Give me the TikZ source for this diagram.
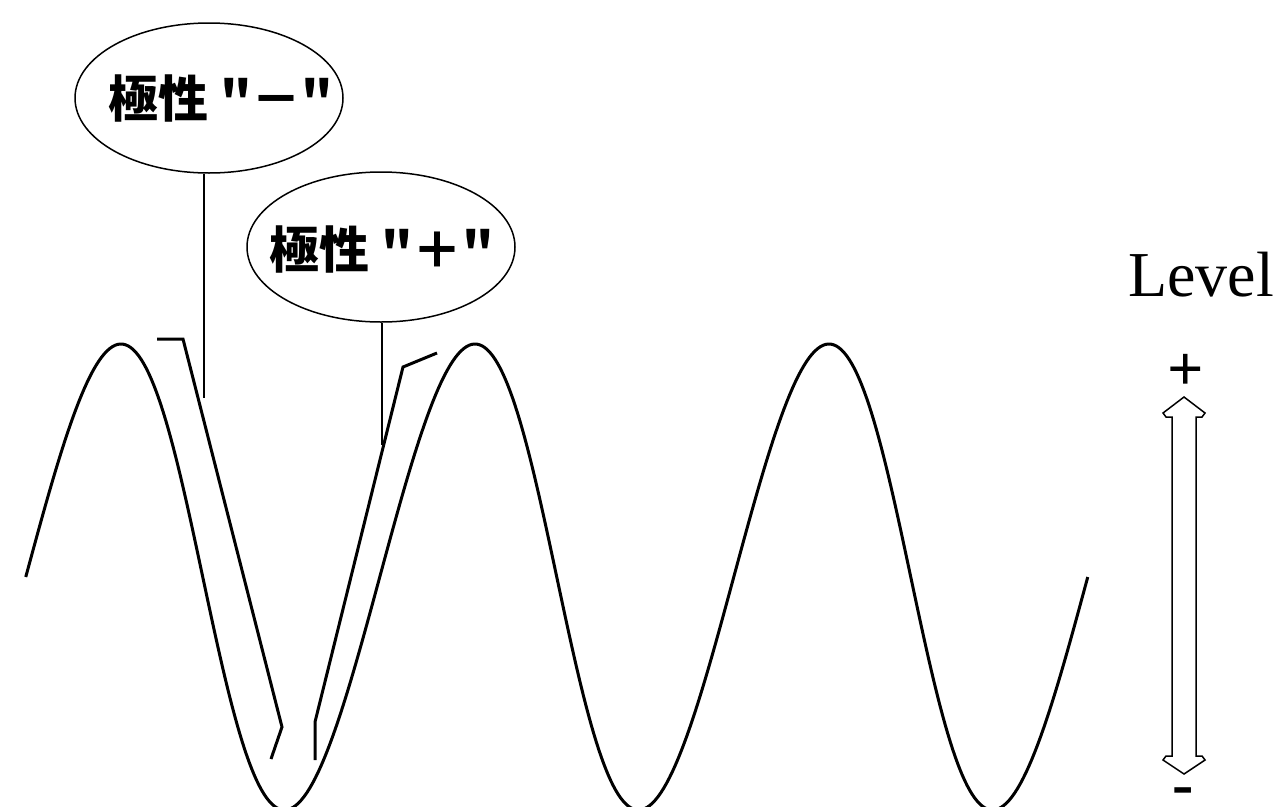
\documentclass[tikz,border=0pt]{standalone}
\usepackage{fontspec}
\setmainfont{Liberation Serif}
\newfontfamily\cjk{Noto Sans CJK JP}
\usetikzlibrary{shapes.geometric}
\tikzset{
  bubble/.style={draw, ellipse, line width=1.5pt, minimum width=268pt, minimum height=150pt, inner sep=0pt},
  bubbletext/.style={font=\cjk\bfseries\fontsize{50}{50}\selectfont, inner sep=0pt},
  wave/.style={line width=3pt},
  polmark/.style={line width=3pt, line join=miter},
  pointer/.style={line width=2pt},
  lvl/.style={font=\fontsize{64}{64}\selectfont, inner sep=0pt},
  sign/.style={font=\bfseries\fontsize{64}{64}\selectfont, inner sep=0pt, text height=20pt, text depth=0pt}
}
\begin{document}
\begin{tikzpicture}[x=1pt,y=-1pt]
\useasboundingbox (0,0) rectangle (1277,806);
\clip (0,0) rectangle (1277,806);
% sine wave
\draw[wave] plot[domain=-90:990, samples=400, variable=\t]
  ({121 + 0.98333*\t - 6.75*(1-cos(\t))}, {577 - 233*cos(\t)});
% callout bubbles
\node[bubble] (e1) at (209,98) {};
\node[bubbletext] (t1) at (221,98) {極性 "－"};
\node[bubble] (e2) at (381,247) {};
\node[bubbletext] (t2) at (382,249) {極性 "＋"};
% pointer lines
\coordinate (p1) at (204,398);
\coordinate (p2) at (382,445);
\draw[pointer] (e1.south -| p1) -- (p1);
\draw[pointer] (e2.south -| p2) -- (p2);
% polarity marks
\coordinate (m1a) at (157,339);
\coordinate (m1b) at (183,339);
\coordinate (m1c) at (282,727);
\coordinate (m1d) at (271,759);
\draw[polmark] (m1a) -- (m1b) -- (m1c) -- (m1d);
\coordinate (m2a) at (437,353);
\coordinate (m2b) at (403,367);
\coordinate (m2c) at (315,722);
\coordinate (m2d) at (315,760);
\draw[polmark] (m2a) -- (m2b) -- (m2c) -- (m2d);
% level indicator
\node[lvl, anchor=base west] (lv) at (1128,296) {Level};
\node[sign, anchor=base] (plus) at (1186,390) {+};
\node[sign, anchor=base] (minus) at (1183,805) {-};
\draw[line width=1.5pt, fill=white]
  (1184,397) -- (1163,413) -- (1166,417) -- (1172,417) -- (1172,756)
  -- (1166,756) -- (1163,760) -- (1184,774) -- (1205,760) -- (1202,756)
  -- (1196,756) -- (1196,417) -- (1202,417) -- (1205,413) -- cycle;
\end{tikzpicture}
\end{document}
